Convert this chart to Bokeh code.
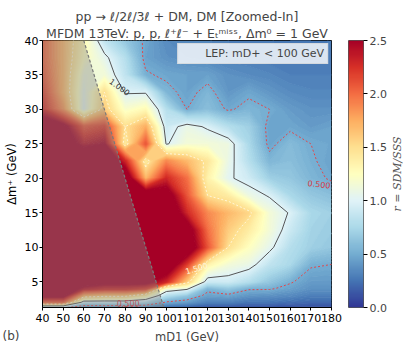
import numpy as np
from bokeh.plotting import figure
from bokeh.layouts import row
from bokeh.models import (Title, FixedTicker, PrintfTickFormatter, LinearColorMapper,
                          Legend, LegendItem, Range1d)
from bokeh.core.properties import value
from bokeh.embed import file_html
from bokeh.resources import INLINE

# ---------------- data ----------------
m_d1 = [40, 50, 60, 70, 80, 90, 100, 110, 120, 130, 140, 150, 160, 170, 180]
delta_m_plus = [1.25, 2, 3, 4, 5, 7.5, 10, 12.5, 15, 17.5, 20, 22.5, 25, 27.5, 30, 32.5, 35, 37.5, 40]

# r = S_DM / S_SS, one list per Delta m+ row, columns follow m_d1
r_dm_1p25 = [0.55, 0.55, 0.30, 0.30, 0.30, 0.30, 0.20, 0.15, 0.12, 0.12, 0.10, 0.10, 0.10, 0.10, 0.10]
r_dm_2 = [2.00, 2.00, 0.85, 0.85, 0.85, 0.75, 0.48, 0.42, 0.30, 0.30, 0.25, 0.25, 0.22, 0.20, 0.20]
r_dm_3 = [2.60, 2.60, 1.70, 1.60, 1.60, 1.35, 0.80, 0.65, 0.45, 0.47, 0.40, 0.38, 0.35, 0.30, 0.30]
r_dm_4 = [2.80, 2.80, 2.40, 2.30, 2.30, 2.20, 1.15, 1.05, 0.55, 0.65, 0.52, 0.52, 0.45, 0.38, 0.38]
r_dm_5 = [2.90, 2.90, 2.70, 2.60, 2.60, 2.60, 2.30, 1.60, 0.90, 0.92, 0.80, 0.65, 0.52, 0.42, 0.42]
r_dm_7p5 = [2.90, 2.90, 2.90, 2.90, 2.90, 2.90, 2.80, 2.20, 1.35, 1.15, 1.08, 0.85, 0.75, 0.52, 0.50]
r_dm_10 = [2.90, 2.90, 2.90, 2.90, 2.90, 3.00, 3.00, 2.80, 2.10, 1.50, 1.25, 1.05, 0.80, 0.70, 0.65]
r_dm_12p5 = [2.90, 2.90, 2.90, 2.90, 2.90, 3.00, 3.00, 2.70, 2.00, 1.60, 1.40, 1.15, 0.90, 0.72, 0.68]
r_dm_15 = [2.90, 2.90, 2.90, 2.90, 2.90, 2.90, 2.90, 2.30, 1.90, 1.70, 1.55, 1.15, 0.98, 0.75, 0.70]
r_dm_17p5 = [2.90, 2.90, 2.90, 2.90, 2.90, 2.80, 2.70, 2.10, 1.50, 1.40, 1.10, 0.98, 0.75, 0.65, 0.60]
r_dm_20 = [2.90, 2.90, 2.90, 2.90, 2.80, 1.70, 2.30, 2.00, 1.35, 1.03, 0.92, 0.70, 0.65, 0.55, 0.48]
r_dm_22p5 = [2.90, 2.90, 2.90, 2.90, 2.30, 1.40, 1.90, 1.70, 1.45, 1.08, 0.80, 0.55, 0.60, 0.52, 0.45]
r_dm_25 = [2.90, 2.70, 2.40, 2.50, 1.40, 2.10, 0.98, 1.15, 1.15, 1.10, 0.75, 0.46, 0.58, 0.50, 0.47]
r_dm_27p5 = [2.80, 2.60, 2.10, 2.20, 1.50, 1.75, 0.90, 1.08, 0.97, 0.80, 0.70, 0.45, 0.47, 0.42, 0.45]
r_dm_30 = [2.30, 1.85, 1.03, 1.60, 1.20, 1.30, 0.80, 0.50, 0.60, 0.48, 0.55, 0.50, 0.42, 0.38, 0.38]
r_dm_32p5 = [2.20, 1.70, 1.06, 1.50, 0.98, 0.98, 0.55, 0.45, 0.55, 0.40, 0.47, 0.40, 0.35, 0.33, 0.33]
r_dm_35 = [2.10, 1.70, 1.12, 1.15, 0.85, 0.52, 0.47, 0.45, 0.45, 0.38, 0.35, 0.33, 0.30, 0.30, 0.30]
r_dm_37p5 = [2.05, 1.70, 1.25, 1.05, 0.80, 0.45, 0.38, 0.35, 0.33, 0.30, 0.30, 0.28, 0.27, 0.27, 0.28]
r_dm_40 = [2.05, 1.70, 1.30, 0.85, 0.65, 0.47, 0.35, 0.35, 0.33, 0.30, 0.30, 0.28, 0.25, 0.25, 0.28]

ratio_rows = [r_dm_1p25, r_dm_2, r_dm_3, r_dm_4, r_dm_5, r_dm_7p5, r_dm_10, r_dm_12p5,
              r_dm_15, r_dm_17p5, r_dm_20, r_dm_22p5, r_dm_25, r_dm_27p5, r_dm_30,
              r_dm_32p5, r_dm_35, r_dm_37p5, r_dm_40]

lep_mass_limit = 100  # LEP: m_D+ = m_D1 + Delta m+ < 100 GeV
contour_levels = [0.5, 1.0, 1.5]
contour_label_text = ["1.000", "0.500", "1.500", "0.500"]
contour_label_x = [77.5, 174.0, 114.6, 81.5]
contour_label_y = [33.3, 19.2, 7.0, 1.85]

x_ticks = [40, 50, 60, 70, 80, 90, 100, 110, 120, 130, 140, 150, 160, 170, 180]
y_ticks = [5, 10, 15, 20, 25, 30, 35, 40]
cbar_ticks = [0.0, 0.5, 1.0, 1.5, 2.0, 2.5]
r_max = 2.5

# ---------------- colour map (RdYlBu reversed) ----------------
BASE = ['#313695', '#4575b4', '#74add1', '#abd9e9', '#e0f3f8', '#ffffbf',
        '#fee090', '#fdae61', '#f46d43', '#d73027', '#a50026']
_rgb = np.array([[int(c[i:i + 2], 16) for i in (1, 3, 5)] for c in BASE], float)
_pos = np.linspace(0, 1, len(BASE))


def cmap(t):
    t = np.clip(np.asarray(t, float), 0, 1)
    out = []
    for tt in np.atleast_1d(t):
        r = np.interp(tt, _pos, _rgb[:, 0])
        g = np.interp(tt, _pos, _rgb[:, 1])
        b = np.interp(tt, _pos, _rgb[:, 2])
        out.append('#%02x%02x%02x' % (int(round(r)), int(round(g)), int(round(b))))
    return out


z = np.array(ratio_rows, float)
ymin = delta_m_plus[0]

FONT = "DejaVu Sans"
FW, FH = 289, 267
TOP, BOT = 40, 32

p = figure(frame_width=FW, frame_height=FH,
           x_range=(m_d1[0], m_d1[-1]), y_range=(ymin, delta_m_plus[-1]),
           toolbar_location=None, output_backend="svg",
           min_border_left=18, min_border_right=11, min_border_top=TOP, min_border_bottom=BOT)
p.grid.visible = False
p.outline_line_color = "black"
p.outline_line_width = 1
p.background_fill_color = "white"

# filled contours (smooth shading); boundary lines in matching colours hide seams
fill_levels = np.array(list(np.linspace(0, r_max, 101)) + [10.0])
mids = (fill_levels[:-1] + fill_levels[1:]) / 2
fill_colors = cmap(mids / r_max)
edge_colors = cmap(fill_levels / r_max)
p.contour(m_d1, delta_m_plus, z, list(fill_levels), fill_color=fill_colors,
          line_color=edge_colors, line_width=1.2)

# contour lines
styles = {0.5: ("#e0474c", "2 2"), 1.0: ("#555555", "solid"), 1.5: ("#fff6d8", "2 2")}
for lev in contour_levels:
    col, dash = styles[lev]
    p.contour(m_d1, delta_m_plus, z, [lev], line_color=col, line_dash=dash, line_width=1)

# contour labels
p.text(x=contour_label_x, y=contour_label_y, text=contour_label_text,
       angle=[-0.63, -0.12, 0.3, 0.0],
       text_color=["#333333", "#d63a44", "#fff6d8", "#d63a44"],
       text_font_size="8px", text_align="center", text_baseline="middle",
       text_font=value(FONT))

# LEP excluded region: m_D1 + Delta m+ < 100
lep_x = [m_d1[0], m_d1[0], lep_mass_limit - delta_m_plus[-1], lep_mass_limit - ymin]
lep_y = [ymin, delta_m_plus[-1], delta_m_plus[-1], ymin]
p.patch(lep_x, lep_y, fill_color="#858585", fill_alpha=0.4, line_color=None)
p.line([lep_mass_limit - delta_m_plus[-1], lep_mass_limit - ymin],
       [delta_m_plus[-1], ymin], line_color="#7a7a7a", line_width=1.2, line_dash="3 2")

# legend
leg_r = p.line(x=[], y=[], line_color="#b0b0b0", line_dash="3 2", line_width=1.5)
legend = Legend(items=[LegendItem(label="LEP: mD+ < 100 GeV", renderers=[leg_r])],
                location="top_right", margin=3, padding=3, spacing=0,
                label_text_font_size="11px", label_text_font=FONT,
                label_height=12, glyph_height=12, glyph_width=18, label_standoff=6,
                background_fill_color="white", background_fill_alpha=0.8,
                border_line_color="#cccccc", border_line_width=1)
p.add_layout(legend)

# axes
for ax in (p.xaxis[0], p.yaxis[0]):
    ax.major_label_text_font_size = "11px"
    ax.major_label_text_font = FONT
    ax.major_label_text_color = "black"
    ax.axis_line_color = "black"
    ax.major_tick_out = 3
    ax.major_tick_in = 0
    ax.minor_tick_out = 0
    ax.minor_tick_in = 0
    ax.major_label_standoff = 2
p.yaxis[0].major_label_standoff = 1
p.xaxis[0].major_label_standoff = 3
p.xaxis[0].axis_label_text_font_size = "11.5px"
p.xaxis[0].axis_label_text_font = FONT
p.xaxis[0].axis_label_text_font_style = "normal"
p.xaxis[0].axis_label_standoff = 5
p.xaxis.ticker = FixedTicker(ticks=x_ticks)
p.yaxis.ticker = FixedTicker(ticks=y_ticks)
p.xaxis.axis_label = "mD1 (GeV)"

# titles
p.add_layout(Title(text="MFDM 13TeV: p, p, ℓ⁺ℓ⁻ + Eₜᵐⁱˢˢ, Δm⁰ = 1 GeV", align="center",
                   text_font_size="12.5px", text_font=FONT, text_font_style="normal",
                   standoff=0), "above")
p.add_layout(Title(text="pp → ℓ/2ℓ/3ℓ + DM, DM [Zoomed-In]", align="center",
                   text_font_size="12.5px", text_font=FONT, text_font_style="normal",
                   standoff=0), "above")

# ---------------- left strip: y-axis title and panel tag ----------------
TAG_W = 21
tag = figure(frame_width=TAG_W, frame_height=FH, x_range=Range1d(0, TAG_W), y_range=p.y_range,
             toolbar_location=None, output_backend="svg", y_axis_location=None,
             min_border_left=0, min_border_right=0, min_border_top=TOP, min_border_bottom=BOT)
tag.grid.visible = False
tag.outline_line_color = None
xa = tag.xaxis[0]
xa.ticker = FixedTicker(ticks=[])
xa.axis_line_color = None
xa.major_tick_out = 0
xa.major_tick_in = 0
xa.minor_tick_out = 0
xa.minor_tick_in = 0
xa.major_label_standoff = 0
xa.axis_label = "(b)"
xa.axis_label_text_font = FONT
xa.axis_label_text_font_size = "12px"
xa.axis_label_text_font_style = "normal"
xa.axis_label_standoff = 21
tag.text(x=[11], y=[(ymin + delta_m_plus[-1]) / 2], text=["Δm⁺ (GeV)"], angle=[np.pi / 2],
         text_font_size="11.5px", text_font=value(FONT),
         text_align="center", text_baseline="middle", text_color="black")

# ---------------- colour bar ----------------
mapper = LinearColorMapper(palette=cmap(np.linspace(0, 1, 256)), low=0, high=r_max)
cb = figure(frame_width=15, frame_height=FH, x_range=(0, 1), y_range=(0, r_max),
            x_axis_location=None, y_axis_location="right",
            toolbar_location=None, output_backend="svg",
            min_border_left=6, min_border_right=24, min_border_top=TOP, min_border_bottom=BOT)
cb.grid.visible = False
cb.outline_line_color = "#555555"
grad = np.linspace(0, r_max, 256).reshape(256, 1)
cb.image(image=[grad], x=0, y=0, dw=1, dh=r_max, color_mapper=mapper)
ya = cb.yaxis[0]
ya.ticker = FixedTicker(ticks=cbar_ticks)
ya.formatter = PrintfTickFormatter(format="%.1f")
ya.major_label_text_font_size = "11px"
ya.major_label_text_font = FONT
ya.axis_line_color = None
ya.major_tick_out = 4
ya.major_tick_in = 0
ya.minor_tick_out = 0
ya.minor_tick_in = 0
ya.major_label_standoff = 2

# colour-bar title strip (reads bottom to top)
LAB_W = 14
lab = figure(frame_width=LAB_W, frame_height=FH, x_range=Range1d(0, LAB_W), y_range=cb.y_range,
             toolbar_location=None, output_backend="svg",
             x_axis_location=None, y_axis_location=None,
             min_border_left=0, min_border_right=0, min_border_top=TOP, min_border_bottom=BOT)
lab.grid.visible = False
lab.outline_line_color = None
lab.text(x=[7.5], y=[r_max / 2], text=["r = SDM/SSS"], angle=[np.pi / 2],
         text_font_size="11px", text_font=value("DejaVu Serif"), text_font_style="italic",
         text_color="#555555", text_align="center", text_baseline="middle")

layout = row(tag, p, cb, lab)
open("out.html", "w").write(file_html(layout, INLINE))
